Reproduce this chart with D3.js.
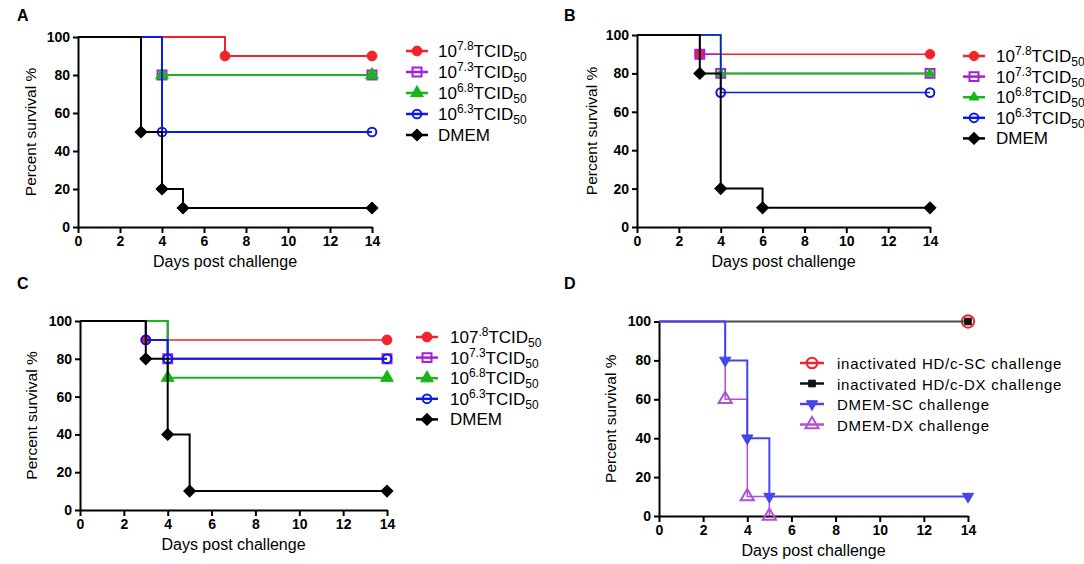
<!DOCTYPE html>
<html>
<head>
<meta charset="utf-8">
<script src="https://cdn.jsdelivr.net/npm/d3@7"></script>
<style>
  body { margin: 0; background: #fff; }
  svg { font-family: "Liberation Sans", Arial, sans-serif; }
  .tick text { font-weight: bold; font-size: 14px; fill: #000; }
  .axis path, .axis line { stroke: #000; stroke-width: 2px; }
</style>
</head>
<body>
<svg id="chart" width="1084" height="564"></svg>
<script>
// x ticks (days) and y ticks (percent)
var dayTicks = [0, 2, 4, 6, 8, 10, 12, 14];
var pctTicks = [0, 20, 40, 60, 80, 100];

// panel A: [day, percent survival]
var survA_78 = [[0,100],[7,90],[14,90]];
var survA_73 = [[0,100],[4,80],[14,80]];
var survA_68 = [[0,100],[4,80],[14,80]];
var survA_63 = [[0,100],[4,50],[14,50]];
var survA_dmem = [[0,100],[3,50],[4,20],[5,10],[14,10]];

// panel B
var survB_78 = [[0,100],[3,90],[14,90]];
var survB_73 = [[0,100],[3,90],[4,80],[14,80]];
var survB_68 = [[0,100],[4,80],[14,80]];
var survB_63 = [[0,100],[4,70],[14,70]];
var survB_dmem = [[0,100],[3,80],[4,20],[6,10],[14,10]];

// panel C
var survC_78 = [[0,100],[3,90],[14,90]];
var survC_73 = [[0,100],[4,80],[14,80]];
var survC_68 = [[0,100],[4,70],[14,70]];
var survC_63 = [[0,100],[3,90],[4,80],[14,80]];
var survC_dmem = [[0,100],[3,80],[4,40],[5,10],[14,10]];

// panel D
var survD_scInact = [[0,100],[14,100]];
var survD_dxInact = [[0,100],[14,100]];
var survD_scDmem = [[0,100],[3,80],[4,40],[5,10],[14,10]];
var survD_dxDmem = [[0,100],[3,60],[4,10],[5,0]];

// legend labels: base, superscript, rest, subscript
var doseLabels = [["10","7.8","TCID","50"],["10","7.3","TCID","50"],["10","6.8","TCID","50"],["10","6.3","TCID","50"],["DMEM","","",""]];
var doseLabelsC = [["107",".8","TCID","50"],["10","7.3","TCID","50"],["10","6.8","TCID","50"],["10","6.3","TCID","50"],["DMEM","","",""]];
var groupLabelsD = ["inactivated HD/c-SC challenge","inactivated HD/c-DX challenge","DMEM-SC challenge","DMEM-DX challenge"];

var svg = d3.select("#chart");

// draws one marker centred at (cx, cy)
function marker(g, cx, cy, type, color, size){
    var sym = d3.symbolCircle, rot = 0, fill = color;
    if (type == "ocircle") { fill = "none"; }
    if (type == "osquare") { sym = d3.symbolSquare; fill = "none"; }
    if (type == "square") { sym = d3.symbolSquare; }
    if (type == "triangle") { sym = d3.symbolTriangle; }
    if (type == "otriangle") { sym = d3.symbolTriangle; fill = "none"; }
    if (type == "dtriangle") { sym = d3.symbolTriangle; rot = 180; }
    if (type == "diamond") { sym = d3.symbolSquare; rot = 45; }
    g.append("path")
        .attr("d", d3.symbol().type(sym).size(size))
        .attr("transform", "translate(" + cx + "," + cy + ") rotate(" + rot + ")")
        .attr("fill", fill)
        .attr("stroke", color)
        .attr("stroke-width", fill == "none" ? 2 : 1);
}

function drawPanel(p){
    var x = d3.scaleLinear().domain([0, 14]).range([p.x0, p.x14]);
    var y = d3.scaleLinear().domain([0, 100]).range([p.y0, p.y100]);
    var g = svg.append("g");

    g.append("text").attr("x", p.letterX).attr("y", p.letterY)
        .attr("font-weight", "bold").attr("font-size", 16).text(p.letter);

    g.append("g").attr("class", "axis")
        .attr("transform", "translate(0," + p.y0 + ")")
        .call(d3.axisBottom(x).tickValues(dayTicks).tickSize(6).tickSizeOuter(0).tickPadding(3));
    g.append("g").attr("class", "axis")
        .attr("transform", "translate(" + p.x0 + ",0)")
        .call(d3.axisLeft(y).tickValues(pctTicks).tickSize(5).tickSizeOuter(0).tickPadding(3));

    g.append("text")
        .attr("x", (p.x0 + p.x14) / 2).attr("y", p.y0 + 40)
        .attr("text-anchor", "middle").attr("font-size", 16)
        .text("Days post challenge");
    g.append("text")
        .attr("transform", "translate(" + p.yTitleX + "," + (p.y0 + p.y100) / 2 + ") rotate(-90)")
        .attr("text-anchor", "middle").attr("font-size", 15.5)
        .text("Percent survival %");

    var line = d3.line()
        .curve(d3.curveStepAfter)
        .x(function(d){ return x(d[0]); })
        .y(function(d){ return y(d[1]); });

    var order = p.order || p.series.map(function(d, i){ return i; });
    order.forEach(function(i){
        var s = p.series[i];
        g.append("path").datum(s.data)
            .attr("d", line)
            .attr("fill", "none")
            .attr("stroke", s.line || s.color)
            .attr("stroke-width", s.width);
        s.data.slice(1).forEach(function(d){
            marker(g, x(d[0]), y(d[1]), s.marker, s.color, s.size);
        });
    });

    // legend
    p.series.forEach(function(s, i){
        var ly = p.legY + i * p.legStep;
        g.append("line")
            .attr("x1", p.legX).attr("x2", p.legX + p.legLen)
            .attr("y1", ly).attr("y2", ly)
            .attr("stroke", s.color).attr("stroke-width", 2.5);
        marker(g, p.legX + p.legLen / 2, ly, s.marker, s.color, s.legSize || s.size);
        var t = g.append("text")
            .attr("x", p.legX + p.legText).attr("y", ly + 6)
            .attr("font-size", p.legFont)
            .attr("letter-spacing", p.legSpacing || 0);
        var lab = s.label;
        if (typeof lab == "string") {
            t.text(lab);
        } else {
            t.append("tspan").text(lab[0]);
            if (lab[1]) {
                t.append("tspan").attr("font-size", 12).attr("dy", -7).text(lab[1]);
                t.append("tspan").attr("dy", 7).text(lab[2]);
                t.append("tspan").attr("font-size", 12).attr("dy", 4).text(lab[3]);
            }
        }
    });
}

var red = "#f2232a", purple = "#a51fd8", green = "#19b51a", blue = "#0b1ae8";

function doseSeries(data, labels, widths, sizes){
    var colors = [red, purple, green, blue, "#000"];
    var marks = ["circle", "osquare", "triangle", "ocircle", "diamond"];
    return data.map(function(d, i){
        return { data: d, label: labels[i], color: colors[i], marker: marks[i], size: sizes[i], width: widths[i] };
    });
}

drawPanel({
    letter: "A", letterX: 17, letterY: 21,
    x0: 78, x14: 372, y0: 227, y100: 37, yTitleX: 36,
    legX: 406, legY: 51, legStep: 21, legLen: 22, legText: 32, legFont: 17,
    series: doseSeries([survA_78, survA_73, survA_68, survA_63, survA_dmem], doseLabels, [2, 2, 2, 2, 2], [75, 80, 70, 60, 70])
});
drawPanel({
    letter: "B", letterX: 564, letterY: 21,
    x0: 637, x14: 930, y0: 227, y100: 35, yTitleX: 597,
    legX: 963, legY: 56, legStep: 20.6, legLen: 22, legText: 33, legFont: 17,
    series: doseSeries([survB_78, survB_73, survB_68, survB_63, survB_dmem], doseLabels, [1.5, 1.5, 2, 1.5, 2], [70, 80, 40, 60, 70])
});
drawPanel({
    letter: "C", letterX: 17, letterY: 289,
    x0: 80, x14: 387, y0: 510, y100: 321, yTitleX: 37,
    legX: 416, legY: 337, legStep: 20.6, legLen: 22, legText: 34, legFont: 17,
    series: doseSeries([survC_78, survC_73, survC_68, survC_63, survC_dmem], doseLabelsC, [1.5, 2, 2, 2, 2], [75, 80, 70, 60, 70])
});
drawPanel({
    letter: "D", letterX: 564, letterY: 289,
    x0: 659, x14: 968, y0: 516, y100: 321.5, yTitleX: 616,
    legX: 800, legY: 363, legStep: 20.5, legLen: 24, legText: 37, legFont: 15, legSpacing: 0.75,
    order: [0, 1, 3, 2],
    series: [
        { data: survD_scInact, label: groupLabelsD[0], color: "#f2232a", marker: "ocircle", size: 120, legSize: 90, width: 1 },
        { data: survD_dxInact, label: groupLabelsD[1], color: "#111", line: "#4a4a4a", marker: "square", size: 45, width: 1.8 },
        { data: survD_scDmem, label: groupLabelsD[2], color: "#4545ee", marker: "dtriangle", size: 55, width: 2 },
        { data: survD_dxDmem, label: groupLabelsD[3], color: "#b24fd6", marker: "otriangle", size: 75, width: 1.5 }
    ]
});
</script>
</body>
</html>
